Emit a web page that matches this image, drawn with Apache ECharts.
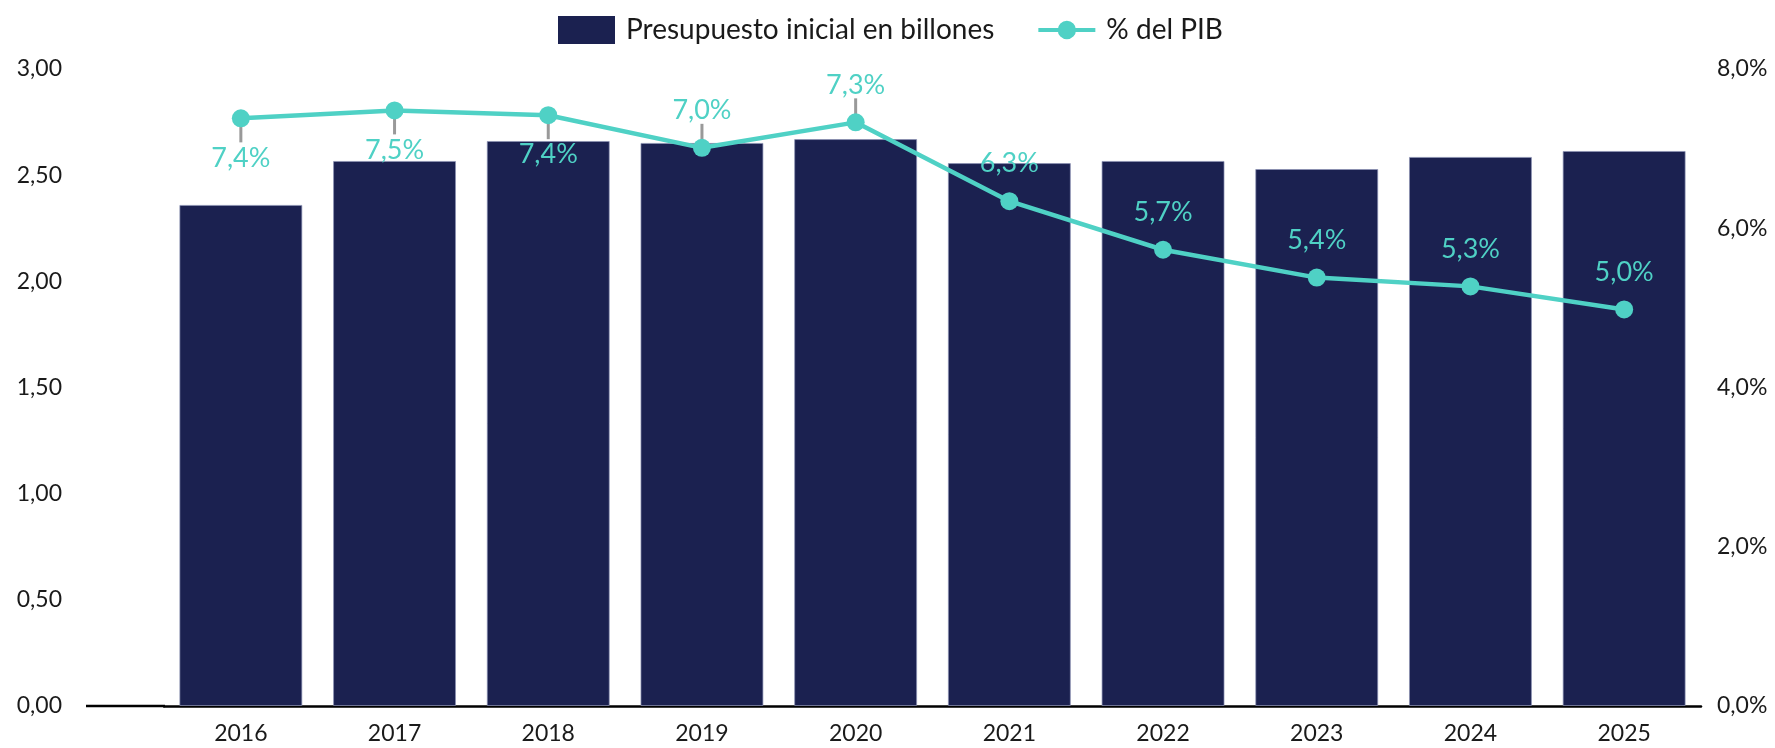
<!DOCTYPE html>
<html>
<head>
<meta charset="utf-8">
<script src="https://cdn.jsdelivr.net/npm/echarts@6/dist/echarts.min.js"></script>
<style>
  html, body { margin: 0; padding: 0; background: #fff; }
  #main { width: 1775px; height: 748px; }
</style>
</head>
<body>
<div id="main"></div>
<script>
// datos
const years = ["2016", "2017", "2018", "2019", "2020", "2021", "2022", "2023", "2024", "2025"];
const budget = [2.36, 2.567, 2.661, 2.652, 2.67, 2.557, 2.567, 2.529, 2.586, 2.614];
const pibPct = [7.38, 7.48, 7.42, 7.01, 7.33, 6.34, 5.73, 5.38, 5.27, 4.98];

// etiquetas de los tres primeros puntos van debajo
const labelsBelow = [0, 1, 2];

const navy = "#1B2150";
const teal = "#4FD1C5";
const font = "Lato";

var myChart = echarts.init(document.getElementById("main"));

function isBelow(i) {
  return labelsBelow.indexOf(i) >= 0;
}

var pibData = pibPct.map(function (v, i) {
  return {
    value: v,
    label: isBelow(i) ? { position: "bottom", distance: 17 } : { position: "top", distance: 15 },
  };
});

var option = {
  animation: false,
  textStyle: { fontFamily: font },
  legend: {
    left: 553,
    top: 11,
    itemWidth: 57,
    itemHeight: 28,
    itemGap: 44,
    itemStyle: { borderWidth: 0 },
    textStyle: { fontSize: 28, color: "#1a1a1a", fontFamily: font, padding: [0, 0, 0, 6] },
    data: [
      { name: "Presupuesto inicial en billones", icon: "rect" },
      {
        name: "% del PIB",
        // línea con círculo
        icon: "path://M0,11 h56 v4 h-56 z M19,13 a9,9 0 1,1 18,0 a9,9 0 1,1 -18,0 z",
      },
    ],
  },
  grid: { left: 164, right: 74, top: 69, bottom: 42 },
  xAxis: {
    type: "category",
    data: years,
    axisTick: { show: false },
    axisLine: { lineStyle: { color: "#000", width: 2.5 } },
    axisLabel: { fontSize: 23, color: "#1a1a1a", margin: 16, fontFamily: font },
  },
  yAxis: [
    {
      type: "value",
      min: 0,
      max: 3,
      interval: 0.5,
      splitLine: { show: false },
      axisLabel: {
        fontSize: 23,
        color: "#1a1a1a",
        margin: 102,
        fontFamily: font,
        formatter: function (v) { return v.toFixed(2).replace(".", ","); },
      },
    },
    {
      type: "value",
      min: 0,
      max: 8,
      interval: 2,
      splitLine: { show: false },
      axisLabel: {
        fontSize: 23,
        color: "#1a1a1a",
        margin: 16,
        fontFamily: font,
        formatter: function (v) { return v.toFixed(1).replace(".", ",") + "%"; },
      },
    },
  ],
  graphic: [
    {
      type: "line",
      z: 10,
      shape: { x1: 86, y1: 706, x2: 165, y2: 706 },
      style: { stroke: "#000", lineWidth: 2.5 },
    },
  ],
  series: [
    {
      name: "Presupuesto inicial en billones",
      type: "bar",
      barCategoryGap: "20%",
      itemStyle: { color: navy, borderColor: "rgba(140,145,180,0.7)", borderWidth: 1 },
      data: budget,
    },
    {
      // guías grises entre punto y etiqueta
      name: "guias",
      type: "custom",
      yAxisIndex: 1,
      z: 1,
      silent: true,
      data: pibPct.map(function (v, i) { return [i, v]; }),
      renderItem: function (params, api) {
        var p = api.coord([api.value(0), api.value(1)]);
        var dir = isBelow(params.dataIndex) ? 1 : -1;
        return {
          type: "line",
          shape: { x1: p[0], y1: p[1] + dir * 6, x2: p[0], y2: p[1] + dir * 24 },
          style: { stroke: "#999", lineWidth: 3 },
        };
      },
    },
    {
      name: "% del PIB",
      type: "line",
      yAxisIndex: 1,
      z: 3,
      symbol: "circle",
      symbolSize: 18,
      itemStyle: { color: teal },
      lineStyle: { color: teal, width: 4.5 },
      label: {
        show: true,
        color: teal,
        fontSize: 27,
        fontFamily: font,
        formatter: function (p) { return p.value.toFixed(1).replace(".", ",") + "%"; },
      },
      data: pibData,
    },
  ],
};
myChart.setOption(option);
</script>
</body>
</html>
